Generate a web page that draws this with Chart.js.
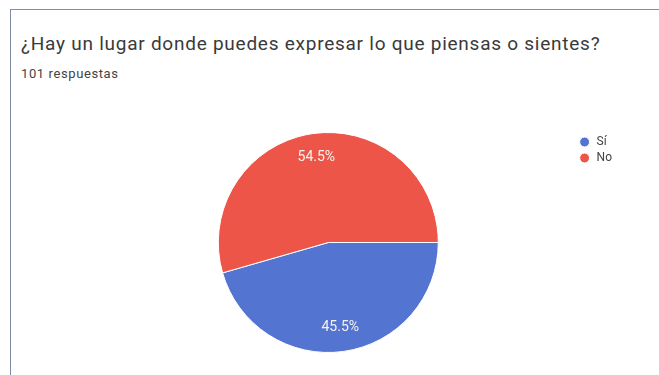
<!DOCTYPE html>
<html>
<head>
<meta charset="utf-8">
<script src="https://cdn.jsdelivr.net/npm/chart.js@4.4.1/dist/chart.umd.min.js"></script>
<style>
  html, body { margin: 0; padding: 0; background: #ffffff; }
  body { width: 659px; height: 375px; position: relative; overflow: hidden; font-family: Roboto, "Noto Sans", sans-serif; }
  #frame { position: absolute; left: 10px; top: 9px; width: 700px; height: 400px; border-left: 1px solid #7f8ea6; border-top: 1px solid #7f8ea6; }
  #title { position: absolute; left: 21px; top: 32px; font-size: 19px; color: #3a3a3a; white-space: nowrap; letter-spacing: 0.75px; }
  #subtitle { position: absolute; left: 21px; top: 66px; font-size: 13px; color: #444; white-space: nowrap; letter-spacing: 0.6px; }
  #wrap { position: absolute; left: 0; top: 0; width: 659px; height: 375px; }
</style>
</head>
<body>
<div id="frame"></div>
<div id="title">¿Hay un lugar donde puedes expresar lo que piensas o sientes?</div>
<div id="subtitle">101 respuestas</div>
<div id="wrap"><canvas id="c" width="659" height="375"></canvas></div>
<script>
const categories = ['Sí', 'No'];
const responses = [46, 55];
const sliceColors = ['#5474d2', '#ee5549'];

const total = responses.reduce((a, b) => a + b, 0);

const sliceLabels = {
  id: 'sliceLabels',
  afterDatasetsDraw(chart) {
    const ctx = chart.ctx;
    const meta = chart.getDatasetMeta(0);
    ctx.save();
    ctx.font = '14px Roboto, "Noto Sans", sans-serif';
    ctx.fillStyle = '#f4f4ee';
    ctx.textAlign = 'center';
    ctx.textBaseline = 'middle';
    meta.data.forEach((arc, i) => {
      const p = arc.getProps(['x', 'y', 'startAngle', 'endAngle', 'outerRadius'], true);
      const mid = (p.startAngle + p.endAngle) / 2;
      const r = p.outerRadius * 0.78;
      const txt = (responses[i] / total * 100).toFixed(1) + '%';
      ctx.fillText(txt, p.x + Math.cos(mid) * r, p.y + Math.sin(mid) * r);
    });
    ctx.restore();
  }
};

new Chart(document.getElementById('c'), {
  type: 'pie',
  data: {
    labels: categories,
    datasets: [{
      data: responses,
      backgroundColor: sliceColors,
      borderColor: '#ffffff',
      borderWidth: 1,
      hoverOffset: 0
    }]
  },
  options: {
    responsive: false,
    animation: false,
    rotation: 90,
    layout: { padding: { top: 132, bottom: 22, left: 82, right: 37 } },
    plugins: {
      tooltip: { enabled: false },
      title: { display: false },
      legend: {
        position: 'right',
        align: 'start',
        labels: {
          usePointStyle: true,
          pointStyle: 'circle',
          boxWidth: 14,
          boxHeight: 7,
          padding: 4,
          color: '#444',
          font: { family: 'Roboto, "Noto Sans", sans-serif', size: 12 }
        }
      }
    }
  },
  plugins: [sliceLabels]
});
</script>
</body>
</html>
